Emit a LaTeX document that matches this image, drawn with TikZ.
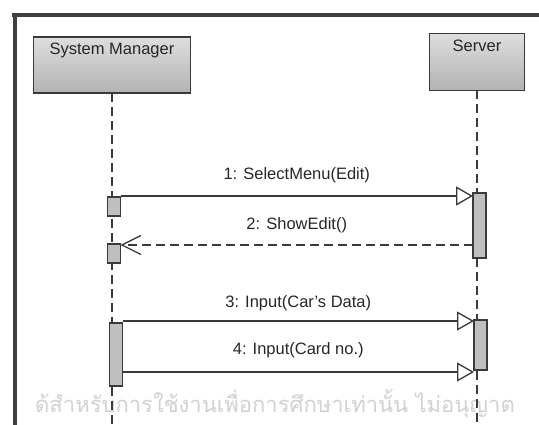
\documentclass[tikz,border=0pt]{standalone}
\usepackage{fontspec}
\setmainfont{Liberation Sans}
\newfontfamily\thaifont[Script=Thai]{Loma}
\usetikzlibrary{arrows.meta}
\definecolor{ink}{HTML}{3A3A3A}
\begin{document}
\begin{tikzpicture}[x=1pt,y=-1pt,
  every node/.style={inner sep=0pt, outer sep=0pt},
  txt/.style={font=\fontsize{16.5}{19}\selectfont, text=black!85},
  actor/.style={draw=ink, line width=1.5pt, top color=black!13, bottom color=black!30},
  act/.style={draw=ink, line width=1.3pt, fill=black!25, minimum width=13pt},
  lifeline/.style={draw=ink, line width=1.8pt, dash pattern=on 9pt off 5pt},
  msg/.style={draw=ink, line width=1.3pt, -{Triangle[open, length=17pt, width=19pt, fill=white]}},
  reply/.style={draw=ink, line width=1.3pt, dash pattern=on 9pt off 5pt, -{Straight Barb[length=19pt, width=19pt]}},
  frameline/.style={draw=black!75, line width=3.5pt}
]
\useasboundingbox (0,0) rectangle (539,425);

% frame
\coordinate (fa) at (12,15);
\coordinate (fb) at (539,15);
\coordinate (fc) at (15,13.5);
\coordinate (fd) at (15,425);
\draw[frameline] (fa) -- (fb);
\draw[frameline] (fc) -- (fd);

% watermark
\node[anchor=base, font=\thaifont\fontsize{22}{25}\selectfont, text=black!18] (wm) at (275,412) {ด้สำหรับการใช้งานเพื่อการศึกษาเท่านั้น ไม่อนุญาต};

% actors
\node[actor, minimum width=157pt, minimum height=56pt] (sm) at (112,65) {};
\node[txt, anchor=north] (smt) at ([yshift=-6pt]sm.north) {System Manager};
\node[actor, minimum width=95pt, minimum height=57pt] (sv) at (477,62) {};
\node[txt, anchor=north] (svt) at ([yshift=-6pt]sv.north) {Server};

% lifelines
\coordinate (smend) at (112,428);
\coordinate (svend) at (477,428);
\draw[lifeline] (sm.south) -- (smend);
\draw[lifeline] (sv.south) -- (svend);

% activations
\node[act, minimum height=19pt] (a1) at (114,206.5) {};
\node[act, minimum height=19pt] (a2) at (114,253.5) {};
\node[act, minimum height=63pt] (a3) at (116,354.5) {};
\node[act, minimum height=65pt] (s1) at (479.5,225.5) {};
\node[act, minimum height=50pt] (s2) at (480.5,345) {};

% messages
\draw[msg] ([yshift=1pt]a1.north east) -- ([yshift=1pt]a1.north east -| s1.west)
  node[txt, midway, above=13pt] (m1) {1: SelectMenu(Edit)};
\draw[reply] ([yshift=-1pt]a2.north east -| s1.west) -- ([yshift=-1pt]a2.north east)
  node[txt, midway, above=12pt] (m2) {2: ShowEdit()};
\draw[msg] ([yshift=2pt]a3.north east) -- ([yshift=2pt]a3.north east -| s2.west)
  node[txt, midway, above=10pt] (m3) {3: Input(Car's Data)};
\draw[msg] ([yshift=-2pt]s2.south west -| a3.east) -- ([yshift=-2pt]s2.south west)
  node[txt, midway, above=14pt] (m4) {4: Input(Card no.)};
\end{tikzpicture}
\end{document}
